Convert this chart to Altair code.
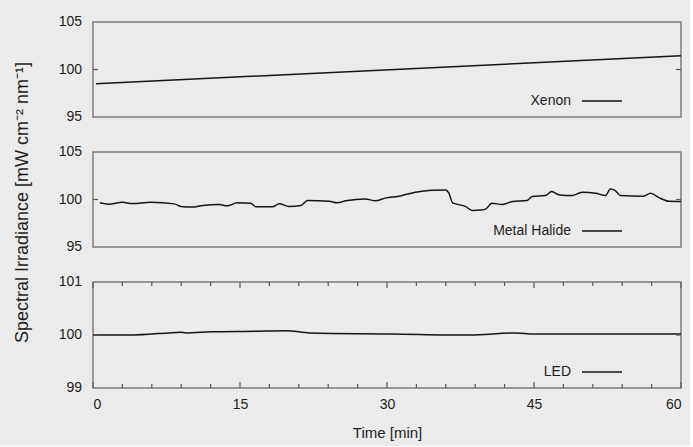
import altair as alt
import pandas as pd

# ---------------- data ----------------
xenon_t = [0.3, 60.0]
xenon_v = [98.5, 101.45]

mh_t = [0.7, 1.6, 3.0, 4.0, 5.9, 8.3, 8.95, 10.1, 11.2, 12.9,
        13.7, 14.7, 16.1, 16.6, 18.3, 19.0, 20.0, 21.2, 21.9, 24.1,
        24.9, 25.8, 27.8, 28.8, 29.9, 31.2, 31.9, 32.9, 34.6, 36.0,
        36.3, 36.7, 37.0, 38.0, 38.7, 39.6, 40.1, 40.7, 41.8, 42.8,
        44.3, 44.8, 46.2, 46.8, 47.6, 48.9, 49.9, 51.3, 52.3, 52.8,
        53.3, 53.8, 56.1, 56.9, 57.8, 58.8, 60.0]
mh_v = [99.65, 99.5, 99.7, 99.58, 99.7, 99.54, 99.27, 99.2, 99.38, 99.48,
        99.33, 99.65, 99.6, 99.23, 99.23, 99.54, 99.27, 99.37, 99.9, 99.82,
        99.65, 99.86, 100.06, 99.86, 100.17, 100.34, 100.52, 100.76, 100.97, 101.0,
        100.69, 99.65, 99.54, 99.27, 98.85, 98.9, 99.02, 99.6, 99.48, 99.79,
        99.9, 100.31, 100.42, 100.83, 100.48, 100.42, 100.76, 100.65, 100.42, 101.1,
        100.94, 100.42, 100.34, 100.65, 100.17, 99.82, 99.8]

led_t = [0.0, 4.1, 7.7, 8.9, 9.5, 12.1, 16.5, 19.7, 22.1, 30.5, 38.4, 43.2, 45.0, 60.0]
led_v = [100.0, 100.0, 100.04, 100.05, 100.04, 100.06, 100.07, 100.08, 100.04, 100.02,
         100.0, 100.04, 100.02, 100.02]

x_major = [0, 15, 30, 45, 60]
x_minor = [3, 6, 9, 12, 18, 21, 24, 27, 33, 36, 39, 42, 48, 51, 54, 57]

names = ["Xenon", "Metal Halide", "LED"]
y_domains = [[95, 105], [95, 105], [99, 101]]
y_ticks = [[95, 100, 105], [95, 100, 105], [99, 100, 101]]
y_tick_labels = [["95", "100", "105"], ["95", "100", "105"], ["99", "100", "101"]]
y_mid = [100, 100, 100]

# ---------------- style ----------------
W = 588
FONT = "Liberation Sans"
LINE = "#151515"
BORDER = "#7d7d7d"
TICK = "#5a5a5a"
TXT = "#1e1e1e"
Y_TITLE = "Spectral Irradiance [mW cm\u207b\u00b2 nm\u207b\u00b9]"


def panel(t, v, idx, h, bottom=False, ytitle=False):
    df = pd.DataFrame({"t": t, "v": v})
    xscale = alt.Scale(domain=[0, 60], nice=False, zero=False)
    yscale = alt.Scale(domain=y_domains[idx], nice=False, zero=False)
    if bottom:
        xaxis = alt.Axis(values=x_major, tickSize=0, domain=False, grid=False,
                         labelFont=FONT, labelFontSize=14, labelColor=TXT,
                         labelPadding=9, labelOverlap=False,
                         title="Time [min]", titleFont=FONT,
                         titleFontSize=15, titleFontWeight="normal",
                         titleColor=TXT, titlePadding=14)
        xenc = alt.X("t:Q", scale=xscale, axis=xaxis)
    else:
        xenc = alt.X("t:Q", scale=xscale, axis=None)
    # axis keeps the room / title; labels are drawn as text marks below
    yaxis_kw = dict(values=y_ticks[idx], tickSize=0, domain=False, grid=False,
                    labels=True, labelFont=FONT, labelFontSize=14, labelColor="#ebebeb",
                    labelOpacity=0, labelPadding=11, labelOverlap=False, format="d")
    if ytitle:
        yaxis_kw.update(title=Y_TITLE, titleFont=FONT, titleFontSize=18,
                        titleFontWeight="normal", titleColor=TXT, titlePadding=27,
                        titleY=50)
    else:
        yaxis_kw.update(title="")
    yaxis = alt.Axis(**yaxis_kw)
    yenc = alt.Y("v:Q", scale=yscale, axis=yaxis)

    line = alt.Chart(df).mark_line(color=LINE, strokeWidth=1.5,
                                   interpolate="monotone").encode(x=xenc, y=yenc)

    # y tick labels as text through the y scale
    lab_df = pd.DataFrame({"v": y_ticks[idx], "lab": y_tick_labels[idx]})
    ylab = alt.Chart(lab_df).mark_text(align="right", baseline="middle", font=FONT,
                                       fontSize=14, color=TXT, clip=False).encode(
        y=alt.Y("v:Q", scale=yscale, axis=yaxis), x=alt.value(-11), text="lab:N")

    # inward y tick at 100 on left and right
    tdf = pd.DataFrame({"v": [y_mid[idx]]})
    ytl = alt.Chart(tdf).mark_rule(color=TICK, strokeWidth=1.2).encode(
        y=alt.Y("v:Q", scale=yscale, axis=yaxis), x=alt.value(0), x2=alt.value(5))
    ytr = alt.Chart(tdf).mark_rule(color=TICK, strokeWidth=1.2).encode(
        y=alt.Y("v:Q", scale=yscale, axis=yaxis), x=alt.value(W - 5), x2=alt.value(W))

    # legend entry
    ly = h - 16
    ldf = pd.DataFrame({"label": [names[idx]]})
    ltxt = alt.Chart(ldf).mark_text(align="right", baseline="middle", font=FONT,
                                    fontSize=14, color=TXT).encode(
        text="label:N", x=alt.value(478), y=alt.value(ly))
    lrule = alt.Chart(ldf).mark_rule(color=LINE, strokeWidth=1.3).encode(
        x=alt.value(489), x2=alt.value(529), y=alt.value(ly))

    layers = [line, ylab, ytl, ytr, ltxt, lrule]
    if bottom:
        mi = pd.DataFrame({"t": x_minor})
        ma = pd.DataFrame({"t": x_major})
        for d, s in ((mi, 4), (ma, 6)):
            layers.append(alt.Chart(d).mark_tick(color=TICK, thickness=1.2, size=s,
                                                 orient="vertical", opacity=1).encode(
                x=alt.X("t:Q", scale=xscale, axis=xaxis), y=alt.value(s / 2)))
            layers.append(alt.Chart(d).mark_tick(color=TICK, thickness=1.2, size=s,
                                                 orient="vertical", opacity=1).encode(
                x=alt.X("t:Q", scale=xscale, axis=xaxis), y=alt.value(h - s / 2)))
    return alt.layer(*layers).properties(width=W, height=h)


p1 = panel(xenon_t, xenon_v, 0, 95)
p2 = panel(mh_t, mh_v, 1, 95, ytitle=True)
p3 = panel(led_t, led_v, 2, 106, bottom=True)

chart = alt.vconcat(p1, p2, p3, spacing=35, bounds="flush").properties(
    background="#ebebeb",
    padding={"left": 12, "top": 14, "right": 5, "bottom": 5},
).configure_view(stroke=BORDER, strokeWidth=1.5).resolve_scale(y="independent")

chart.save("out.html", embed_options={"renderer": "svg", "actions": False})
